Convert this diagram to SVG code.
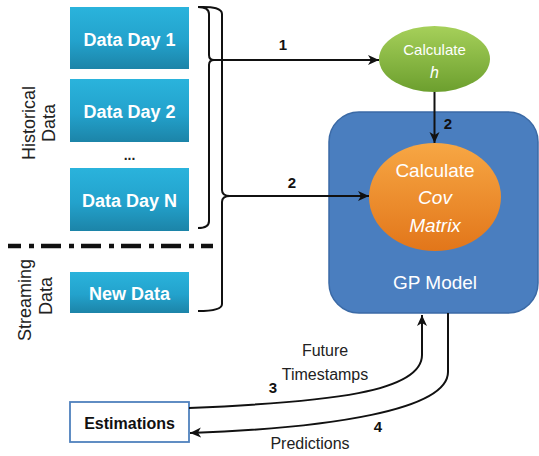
<svg xmlns="http://www.w3.org/2000/svg" width="539" height="456" viewBox="0 0 539 456">
<style>
.lbl{font-family:"Liberation Sans",Arial,sans-serif;}
.box text{font-family:"Liberation Sans",Arial,sans-serif;font-weight:bold;font-size:18px;fill:#fff;text-anchor:middle;}
.wt{font-family:"Liberation Sans",Arial,sans-serif;fill:#fff;text-anchor:middle;}
.num{font-family:"Liberation Sans",Arial,sans-serif;font-weight:bold;font-size:15px;fill:#111;text-anchor:middle;}
.side{font-family:"Liberation Sans",Arial,sans-serif;font-size:18px;fill:#222;text-anchor:middle;}
.cap{font-family:"Liberation Sans",Arial,sans-serif;font-size:16px;fill:#222;text-anchor:middle;}
.ln{fill:none;stroke:#111;stroke-width:2;}
</style>
<defs>
<linearGradient id="gCyan" x1="0" y1="0" x2="0" y2="1">
<stop offset="0" stop-color="#2AB3DC"/><stop offset="0.55" stop-color="#23A2CC"/><stop offset="1" stop-color="#1C84A8"/>
</linearGradient>
<linearGradient id="gGreen" x1="0" y1="0" x2="0" y2="1">
<stop offset="0" stop-color="#A6D05A"/><stop offset="1" stop-color="#6C9F2E"/>
</linearGradient>
<linearGradient id="gOrange" x1="0" y1="0" x2="0" y2="1">
<stop offset="0" stop-color="#F7A744"/><stop offset="1" stop-color="#E2761A"/>
</linearGradient>
<marker id="arr" markerUnits="userSpaceOnUse" markerWidth="12" markerHeight="12" viewBox="0 0 12 12" refX="11" refY="6" orient="auto">
<path d="M0,1 L11,6 L0,11 L3,6 Z" fill="#111"/>
</marker>
</defs>

<g id="labels-side">
<text class="side" transform="translate(35,123) rotate(-90)">Historical</text>
<text class="side" transform="translate(55,123) rotate(-90)">Data</text>
<text class="side" transform="translate(31,300) rotate(-90)">Streaming</text>
<text class="side" transform="translate(52,296) rotate(-90)">Data</text>
</g>

<g id="separator">
<line x1="8" y1="246" x2="213" y2="246" stroke="#111" stroke-width="4.5" stroke-dasharray="20 8 5 7" stroke-dashoffset="7"/>
</g>

<g id="day1" class="box">
<rect x="70" y="7" width="119" height="62" fill="url(#gCyan)"/>
<text x="129.5" y="46">Data Day 1</text>
</g>
<g id="day2" class="box">
<rect x="70" y="79" width="119" height="63" fill="url(#gCyan)"/>
<text x="129.5" y="118">Data Day 2</text>
</g>
<g id="dots">
<text x="129.5" y="160" font-family="Liberation Sans,Arial,sans-serif" font-weight="bold" font-size="14" fill="#222" text-anchor="middle">...</text>
</g>
<g id="dayN" class="box">
<rect x="70" y="168" width="119" height="63" fill="url(#gCyan)"/>
<text x="129.5" y="207">Data Day N</text>
</g>
<g id="newdata" class="box">
<rect x="70" y="272" width="119" height="41" fill="url(#gCyan)"/>
<text x="129.5" y="300">New Data</text>
</g>

<g id="estimations">
<rect x="70" y="402" width="119" height="40" fill="#fff" stroke="#4F81BD" stroke-width="1.8"/>
<text x="129.5" y="429" font-family="Liberation Sans,Arial,sans-serif" font-weight="bold" font-size="16" fill="#111" text-anchor="middle">Estimations</text>
</g>

<g id="gpmodel">
<rect x="329" y="112" width="209" height="201" rx="30" ry="30" fill="#4A7EBF" stroke="#3B6AA6" stroke-width="1.5"/>
<text class="wt" x="435" y="289" font-size="19">GP Model</text>
</g>

<g id="calch">
<ellipse cx="434.5" cy="59" rx="55.5" ry="33" fill="url(#gGreen)"/>
<text class="wt" x="434.5" y="55" font-size="15">Calculate</text>
<text class="wt" x="434.5" y="78" font-size="16" font-style="italic">h</text>
</g>

<g id="calccov">
<ellipse cx="435" cy="197" rx="66" ry="54" fill="url(#gOrange)"/>
<text class="wt" x="435" y="177" font-size="19">Calculate</text>
<text class="wt" x="435" y="204" font-size="19" font-style="italic">Cov</text>
<text class="wt" x="435" y="232" font-size="19" font-style="italic">Matrix</text>
</g>

<g id="connectors">
<path class="ln" d="M198,7 Q209,7 209,14 L209,55 Q209,60 214,60 Q209,60 209,65 L209,221 Q209,228 198,228"/>
<path class="ln" d="M198,7 Q222,6 222,14 L222,190 Q222,196 230,196 Q222,196 222,202 L222,304 Q222,311 198,311"/>
<line class="ln" x1="212" y1="60" x2="379" y2="60" marker-end="url(#arr)"/>
<line class="ln" x1="228" y1="196" x2="369" y2="196" marker-end="url(#arr)"/>
<line class="ln" x1="434.5" y1="92" x2="434.5" y2="143" marker-end="url(#arr)"/>
<path class="ln" d="M189,408 C330,402 422,392 422,355 L422,315" marker-end="url(#arr)"/>
<path class="ln" d="M448,313 L448,372 C448,410 330,428 190,433" marker-end="url(#arr)"/>
</g>

<g id="connector-labels">
<text class="num" x="283" y="50">1</text>
<text class="num" x="448" y="129">2</text>
<text class="num" x="292" y="188">2</text>
<text class="num" x="273" y="393">3</text>
<text class="num" x="378" y="432">4</text>
<text class="cap" x="325" y="356">Future</text>
<text class="cap" x="325" y="380">Timestamps</text>
<text class="cap" x="310" y="449">Predictions</text>
</g>
</svg>
